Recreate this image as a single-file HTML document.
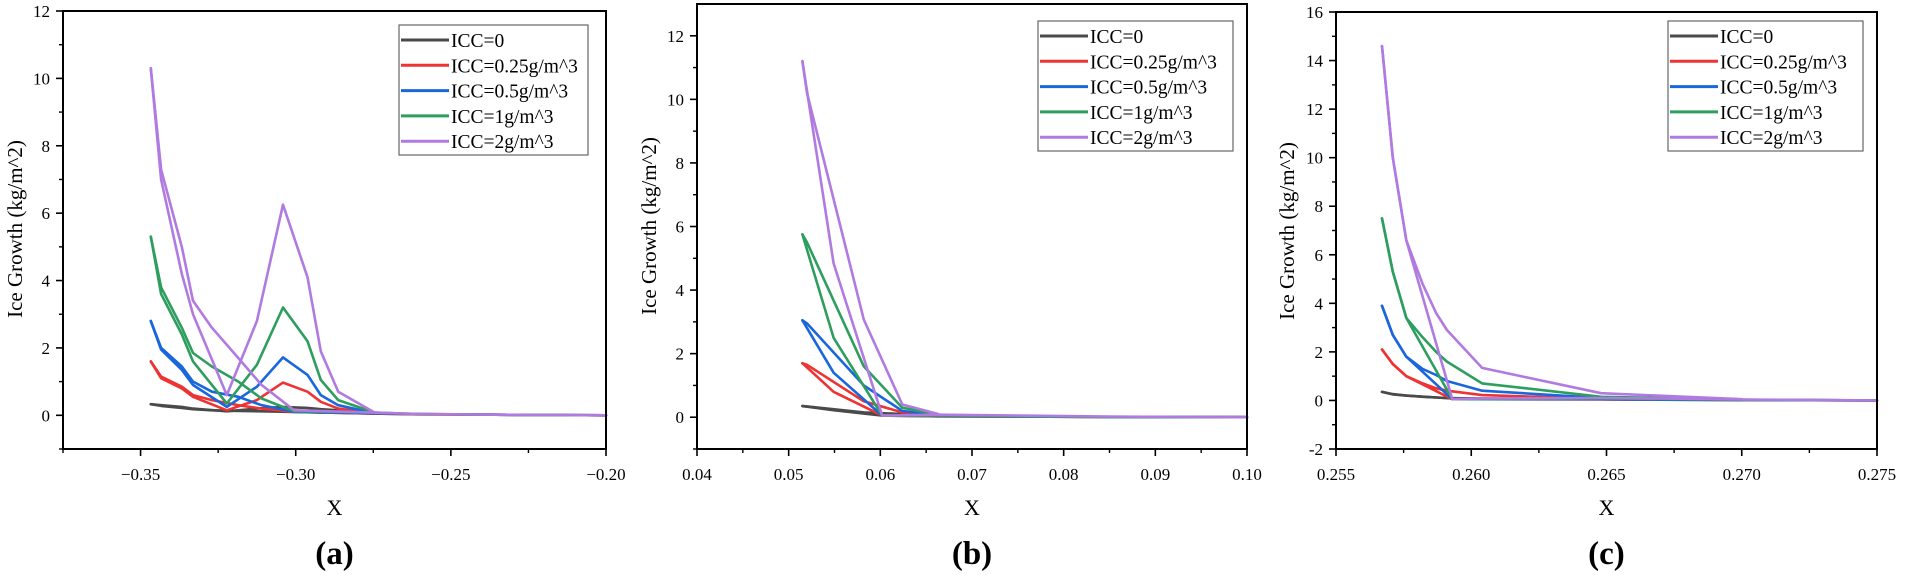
<!DOCTYPE html>
<html><head><meta charset="utf-8">
<style>
html,body{margin:0;padding:0;background:#fff;}
svg{display:block;font-family:"Liberation Serif",serif;}
</style></head>
<body>
<svg id="chart" width="1905" height="575" viewBox="0 0 1905 575" xmlns="http://www.w3.org/2000/svg"></svg>
<script>
// ---------- data ----------
const seriesNames = ["ICC=0","ICC=0.25g/m^3","ICC=0.5g/m^3","ICC=1g/m^3","ICC=2g/m^3"];
const seriesColors = ["#4a4a4a","#ee3333","#1a66dd","#2e9e5e","#b07ae0"];

// Panel (a)
const aXA = [-0.3467,-0.3434,-0.3367,-0.3331,-0.3270,-0.3185,-0.3110,-0.3005,-0.2745,-0.26,-0.24,-0.22,-0.20];
const aXB = [-0.3467,-0.3434,-0.3367,-0.3331,-0.3222,-0.3125,-0.3041,-0.2962,-0.2919,-0.2863,-0.2745];
const aBlackA  = [0.33,0.28,0.22,0.18,0.15,0.13,0.12,0.10,0.05,0.03,0.02,0.01,0];
const aBlackB  = [0.33,0.30,0.25,0.20,0.12,0.20,0.25,0.22,0.18,0.15,0.05];
const aRedA    = [1.6,1.15,0.85,0.6,0.45,0.3,0.2,0.1,0.05,0.03,0.02,0.01,0];
const aRedB    = [1.6,1.1,0.8,0.55,0.15,0.45,0.97,0.7,0.4,0.2,0.05];
const aBlueA   = [2.8,2.0,1.45,1.0,0.7,0.55,0.3,0.1,0.06,0.04,0.02,0.01,0];
const aBlueB   = [2.8,1.95,1.35,0.9,0.25,0.85,1.72,1.2,0.6,0.3,0.06];
const aGreenA  = [5.3,3.8,2.6,1.85,1.45,1.0,0.5,0.12,0.08,0.04,0.02,0.01,0];
const aGreenB  = [5.3,3.6,2.4,1.6,0.35,1.5,3.2,2.2,1.05,0.45,0.08];
const aPurpleA = [10.3,7.3,5.0,3.4,2.6,1.7,0.9,0.15,0.08,0.04,0.02,0.01,0];
const aPurpleB = [10.3,7.0,4.2,3.0,0.6,2.8,6.25,4.1,1.9,0.7,0.08];
const aXTicks = [-0.35,-0.30,-0.25,-0.20];
const aXTickLabels = ["\u22120.35","\u22120.30","\u22120.25","\u22120.20"];
const aYTicks = [0,2,4,6,8,10,12];

// Panel (b)
const bXA = [0.0515,0.0549,0.0602,0.0663,0.075,0.085,0.10];
const bXB = [0.0515,0.0520,0.0582,0.0624,0.0663];
const bBlackA  = [0.35,0.22,0.05,0.03,0.02,0.01,0];
const bBlackB  = [0.35,0.34,0.15,0.10,0.03];
const bRedA    = [1.7,0.8,0.05,0.03,0.02,0.01,0];
const bRedB    = [1.7,1.65,0.5,0.15,0.05];
const bBlueA   = [3.05,1.4,0.05,0.04,0.02,0.01,0];
const bBlueB   = [3.05,2.95,1.0,0.2,0.06];
const bGreenA  = [5.75,2.5,0.05,0.05,0.03,0.01,0];
const bGreenB  = [5.75,5.5,1.6,0.3,0.08];
const bPurpleA = [11.2,4.84,0.05,0.08,0.05,0.02,0];
const bPurpleB = [11.2,10.2,3.07,0.4,0.1];
const bXTicks = [0.04,0.05,0.06,0.07,0.08,0.09,0.10];
const bXTickLabels = ["0.04","0.05","0.06","0.07","0.08","0.09","0.10"];
const bYTicks = [0,2,4,6,8,10,12];

// Panel (c)
const cXA = [0.2567,0.2571,0.2576,0.2593,0.2604,0.2648,0.2670,0.2700,0.275];
const cXB = [0.2567,0.2571,0.2576,0.2582,0.2587,0.2591,0.2604,0.2648,0.2700];
const cBlackA  = [0.35,0.25,0.2,0.08,0.07,0.05,0.03,0.02,0];
const cBlackB  = [0.35,0.26,0.2,0.15,0.12,0.1,0.08,0.05,0.02];
const cRedA    = [2.1,1.5,1.0,0.05,0.05,0.04,0.03,0.02,0];
const cRedB    = [2.1,1.5,1.0,0.7,0.5,0.4,0.22,0.07,0.02];
const cBlueA   = [3.9,2.7,1.8,0.05,0.05,0.05,0.03,0.02,0];
const cBlueB   = [3.9,2.7,1.8,1.3,1.05,0.8,0.4,0.1,0.02];
const cGreenA  = [7.5,5.3,3.4,0.05,0.06,0.08,0.06,0.03,0];
const cGreenB  = [7.5,5.3,3.4,2.6,2.0,1.6,0.7,0.15,0.03];
const cPurpleA = [14.6,10.0,6.6,0.05,0.08,0.1,0.08,0.04,0];
const cPurpleB = [14.6,10.0,6.6,4.8,3.6,2.9,1.34,0.3,0.05];
const cXTicks = [0.255,0.260,0.265,0.270,0.275];
const cXTickLabels = ["0.255","0.260","0.265","0.270","0.275"];
const cYTicks = [-2,0,2,4,6,8,10,12,14,16];

// ---------- drawing ----------
const NS = "http://www.w3.org/2000/svg";
const svg = document.getElementById("chart");
function mk(tag, attrs, parent){
  const e = document.createElementNS(NS, tag);
  for (const k in attrs) e.setAttribute(k, attrs[k]);
  (parent||svg).appendChild(e);
  return e;
}

function drawPanel(p){
  const g = mk("g", {});
  
  
  const sx = v => p.L + (v - p.xmin) / (p.xmax - p.xmin) * (p.R - p.L);
  const sy = v => p.B - (v - p.ymin) / (p.ymax - p.ymin) * (p.B - p.T);

  // series
  for (let s = 0; s < 5; s++){
    const branches = [[p.xA, p.yA[s]], [p.xB, p.yB[s]]];
    branches.forEach((br, bi) => {
      const pts = br[0].map((x, i) => sx(x).toFixed(1) + "," + sy(br[1][i]).toFixed(1)).join(" ");
      const line = mk("polyline", {points: pts, fill: "none", stroke: seriesColors[s], "stroke-width": 2.6, "stroke-linejoin": "round", "stroke-linecap": "round"}, g);
      
      
    });
  }

  // frame
  const frame = mk("rect", {x: p.L, y: p.T, width: p.R - p.L, height: p.B - p.T, fill: "none", stroke: "#000", "stroke-width": 2}, g);
  
  

  // x ticks
  p.xTicks.forEach((v, i) => {
    const x = sx(v);
    mk("line", {x1: x, y1: p.B, x2: x, y2: p.B + 7, stroke: "#000", "stroke-width": 1.6}, g);
    const t = mk("text", {x: x, y: p.B + 31, "text-anchor": "middle", "font-size": 17, fill: "#000"}, g);
    t.textContent = p.xTickLabels[i];
    
    
  });
  p.xMinor.forEach(v => {
    const x = sx(v);
    mk("line", {x1: x, y1: p.B, x2: x, y2: p.B + 4, stroke: "#000", "stroke-width": 1.4}, g);
  });
  // y ticks
  p.yTicks.forEach(v => {
    const y = sy(v);
    mk("line", {x1: p.L - 7, y1: y, x2: p.L, y2: y, stroke: "#000", "stroke-width": 1.6}, g);
    const t = mk("text", {x: p.L - 13, y: y + 6, "text-anchor": "end", "font-size": 17, fill: "#000"}, g);
    t.textContent = String(v);
    
    
  });
  p.yMinor.forEach(v => {
    const y = sy(v);
    mk("line", {x1: p.L - 4, y1: y, x2: p.L, y2: y, stroke: "#000", "stroke-width": 1.4}, g);
  });

  // axis titles
  const yt = mk("text", {x: p.ytx, y: p.yty, transform: "rotate(-90 " + p.ytx + " " + p.yty + ")", "text-anchor": "middle", "font-size": 21, fill: "#000"}, g);
  yt.textContent = "Ice Growth (kg/m^2)";
  
  
  const cx = (p.L + p.R) / 2;
  const xt = mk("text", {x: cx, y: 515, "text-anchor": "middle", "font-size": 22, fill: "#000"}, g);
  xt.textContent = "X";
  
  
  const cap = mk("text", {x: cx, y: 564, "text-anchor": "middle", "font-size": 33, "font-weight": "bold", fill: "#000"}, g);
  cap.textContent = "(" + p.id + ")";
  
  

  // legend
  const lg = mk("g", {}, g);
  
  
  mk("rect", {x: p.lx, y: p.ly, width: p.lw, height: 130, fill: "#fff", stroke: "#666", "stroke-width": 1.2}, lg);
  for (let s = 0; s < 5; s++){
    const y = p.ly + 15 + s * 25.3;
    const e = mk("g", {}, lg);
    
    
    mk("line", {x1: p.lx + 2, y1: y, x2: p.lx + 50, y2: y, stroke: seriesColors[s], "stroke-width": 3}, e);
    const t = mk("text", {x: p.lx + 52, y: y + 7, "font-size": 19.5, fill: "#000"}, e);
    t.textContent = seriesNames[s];
  }
}

drawPanel({id: "a", L: 63, R: 606, T: 11, B: 449, xmin: -0.375, xmax: -0.20, ymin: -1, ymax: 12,
  xA: aXA, xB: aXB,
  yA: [aBlackA, aRedA, aBlueA, aGreenA, aPurpleA], yB: [aBlackB, aRedB, aBlueB, aGreenB, aPurpleB],
  xTicks: aXTicks, xTickLabels: aXTickLabels, xMinor: [-0.375,-0.325,-0.275,-0.225],
  yTicks: aYTicks, yMinor: [-1,1,3,5,7,9,11],
  ytx: 22, yty: 229, lx: 399, ly: 25, lw: 189});

drawPanel({id: "b", L: 697, R: 1247, T: 4, B: 449, xmin: 0.04, xmax: 0.10, ymin: -1, ymax: 13,
  xA: bXA, xB: bXB,
  yA: [bBlackA, bRedA, bBlueA, bGreenA, bPurpleA], yB: [bBlackB, bRedB, bBlueB, bGreenB, bPurpleB],
  xTicks: bXTicks, xTickLabels: bXTickLabels, xMinor: [0.045,0.055,0.065,0.075,0.085,0.095],
  yTicks: bYTicks, yMinor: [-1,1,3,5,7,9,11],
  ytx: 656, yty: 226, lx: 1038, ly: 21, lw: 195});

drawPanel({id: "c", L: 1336, R: 1877, T: 12, B: 449, xmin: 0.255, xmax: 0.275, ymin: -2, ymax: 16,
  xA: cXA, xB: cXB,
  yA: [cBlackA, cRedA, cBlueA, cGreenA, cPurpleA], yB: [cBlackB, cRedB, cBlueB, cGreenB, cPurpleB],
  xTicks: cXTicks, xTickLabels: cXTickLabels, xMinor: [0.2575,0.2625,0.2675,0.2725],
  yTicks: cYTicks, yMinor: [-1,1,3,5,7,9,11,13,15],
  ytx: 1294, yty: 231, lx: 1668, ly: 21, lw: 195});
</script>
</body></html>
